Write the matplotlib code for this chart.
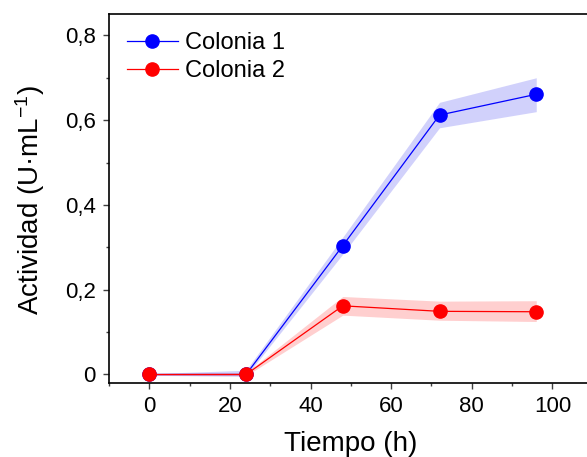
import matplotlib.pyplot as plt
from matplotlib.ticker import FuncFormatter, MultipleLocator

plt.rcParams['font.family'] = ['Liberation Sans', 'DejaVu Sans']
plt.rcParams['mathtext.fontset'] = 'custom'
plt.rcParams['mathtext.rm'] = 'Liberation Sans'

tiempo = [0, 24, 48, 72, 96]
colonia1 = [0.0, 0.0, 0.304, 0.612, 0.661]
colonia1_lo = [-0.002, -0.004, 0.284, 0.582, 0.620]
colonia1_hi = [0.002, 0.010, 0.324, 0.642, 0.700]
colonia2 = [0.0, 0.0, 0.162, 0.149, 0.148]
colonia2_lo = [-0.002, -0.003, 0.140, 0.128, 0.125]
colonia2_hi = [0.002, 0.004, 0.184, 0.173, 0.174]

fig = plt.figure(figsize=(5.87, 4.57), dpi=100)
ax = fig.add_axes([0.1857, 0.162, 0.824, 0.807])

ax.fill_between(tiempo, colonia1_lo, colonia1_hi, color='#3a3af0', alpha=0.23, lw=0)
ax.fill_between(tiempo, colonia2_lo, colonia2_hi, color='#ff3030', alpha=0.23, lw=0)
ax.plot(tiempo, colonia1, color='#0000ff', lw=0.9, marker='o', ms=9.5, label='Colonia 1')
ax.plot(tiempo, colonia2, color='#ff0000', lw=0.9, marker='o', ms=9.5, label='Colonia 2')

ax.set_xlim(-10, 110)
ax.set_ylim(-0.02, 0.85)
ax.xaxis.set_major_locator(MultipleLocator(20))
ax.xaxis.set_minor_locator(MultipleLocator(10))
ax.yaxis.set_major_locator(MultipleLocator(0.2))
ax.yaxis.set_minor_locator(MultipleLocator(0.1))


def coma(v, pos):
    if abs(v) < 1e-9:
        return '0'
    return f'{v:.1f}'.replace('.', ',')


ax.yaxis.set_major_formatter(FuncFormatter(coma))
ax.tick_params(which='major', direction='out', length=4.5, width=1, labelsize=16,
               color='#404040', pad=5)
ax.tick_params(which='minor', direction='out', length=2.5, width=1, color='#404040')
for s in ax.spines.values():
    s.set_linewidth(1.2)

ax.set_xlabel('Tiempo (h)', fontsize=20)
ax.set_ylabel('Actividad (U·mL$\\mathregular{^{-1}}$)', fontsize=20)
ax.xaxis.set_label_coords(0.5, -0.129)
ax.yaxis.set_label_coords(-0.128, 0.496)

ax.legend(loc='upper left', bbox_to_anchor=(0.008, 0.99), frameon=False, fontsize=17,
          handlelength=2.15, handletextpad=0.3, labelspacing=0.25, borderaxespad=0.3,
          borderpad=0.3)

fig.savefig('out.png', dpi=100)
